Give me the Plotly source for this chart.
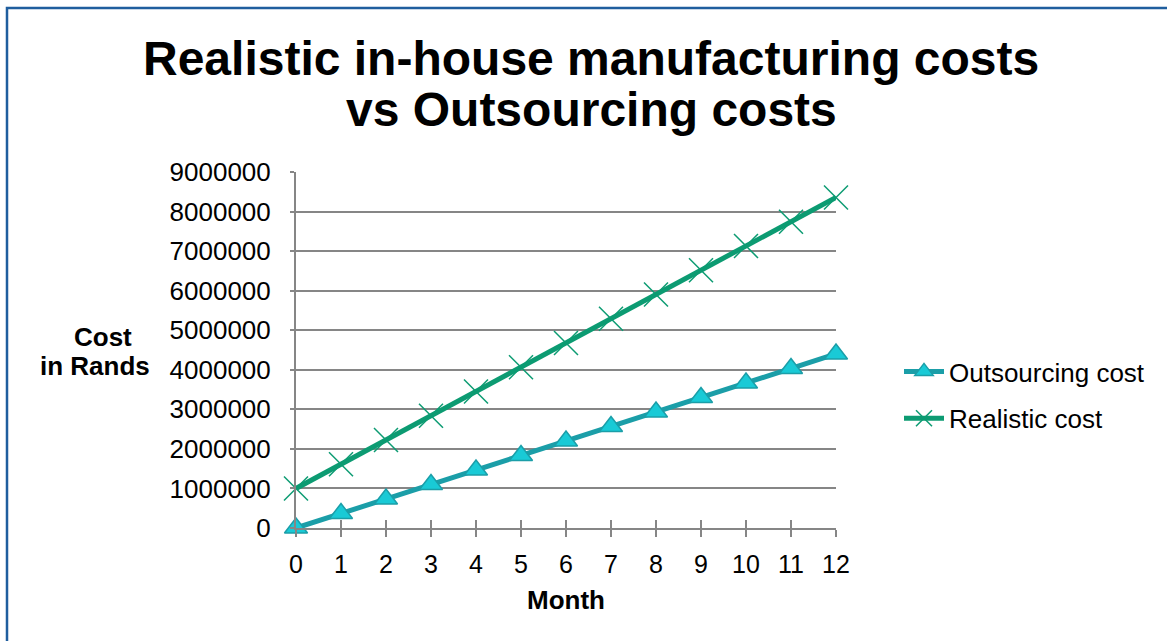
import plotly.graph_objects as go

# Monthly cumulative costs (Rands)
months = [0, 1, 2, 3, 4, 5, 6, 7, 8, 9, 10, 11, 12]
outsourcing_cost = [0, 367000, 733000, 1100000, 1467000, 1833000, 2200000,
                    2567000, 2933000, 3300000, 3667000, 4033000, 4400000]
realistic_cost = [1000000, 1613000, 2226000, 2839000, 3452000, 4065000, 4678000,
                  5291000, 5904000, 6517000, 7130000, 7743000, 8356000]

y_ticks = [0, 1000000, 2000000, 3000000, 4000000, 5000000,
           6000000, 7000000, 8000000, 9000000]

W, H = 1167, 641
ML, MR, MT, MB = 296, 331, 172, 113
PW, PH = W - ML - MR, H - MT - MB

FONT = "Liberation Sans, Arial, sans-serif"
GRID = "#868686"
TEAL = "#1b9ea8"
TEAL_FILL = "#19cad6"
GREEN = "#0c9b72"


def px_x(px):
    return (px - ML) / PW


def px_y(py):
    return (H - MB - py) / PH


fig = go.Figure()

fig.add_trace(go.Scatter(
    x=months, y=outsourcing_cost, name="Outsourcing cost",
    mode="lines+markers", legendgroup="a", cliponaxis=False,
    line=dict(color=TEAL, width=5),
    marker=dict(symbol="triangle-up", size=20, color=TEAL_FILL,
                line=dict(color=TEAL, width=1.5)),
))
fig.add_trace(go.Scatter(
    x=months, y=realistic_cost, name="Realistic cost",
    mode="lines+markers", legendgroup="b", cliponaxis=False,
    line=dict(color=GREEN, width=5),
    marker=dict(symbol="x-thin", size=24, color=GREEN,
                line=dict(color=GREEN, width=1.5)),
))
# invisible trace to carry the overlay axis used for the upper half of the tick marks
fig.add_trace(go.Scatter(x=[0, 12], y=[0, 0], xaxis="x2", mode="none",
                         showlegend=False, hoverinfo="skip"))

fig.update_layout(
    width=W, height=H,
    margin=dict(l=ML, r=MR, t=MT, b=MB, pad=0),
    paper_bgcolor="white", plot_bgcolor="white",
    font=dict(family=FONT, size=26, color="black"),
    showlegend=True,
    legend=dict(x=px_x(899), y=px_y(348), xanchor="left", yanchor="top",
                font=dict(size=26), tracegroupgap=10,
                bgcolor="rgba(0,0,0,0)", itemwidth=40),
    xaxis=dict(
        range=[0, 12], tickmode="array", tickvals=months,
        ticktext=[str(m) for m in months],
        showgrid=False, zeroline=False,
        showline=True, linecolor=GRID, linewidth=2,
        ticks="outside", ticklen=7, tickwidth=2, tickcolor=GRID,
        ticklabelstandoff=6,
        tickfont=dict(size=25),
    ),
    xaxis2=dict(
        overlaying="x", matches="x", side="bottom", anchor="y",
        showgrid=False, zeroline=False, showline=False,
        ticks="inside", ticklen=8, tickwidth=2, tickcolor=GRID,
        tickmode="array", tickvals=months, showticklabels=False,
    ),
    yaxis=dict(
        range=[0, 9000000], tickmode="array", tickvals=y_ticks,
        ticktext=[str(v) for v in y_ticks],
        showgrid=True, gridcolor=GRID, gridwidth=2,
        zeroline=False,
        showline=True, linecolor=GRID, linewidth=2,
        ticks="outside", ticklen=4, tickwidth=2, tickcolor=GRID,
        ticklabelstandoff=14,
        tickfont=dict(size=26),
    ),
)

annotations = [
    dict(text="<b>Realistic in-house manufacturing costs</b>",
         x=px_x(591), y=px_y(58), font=dict(size=48)),
    dict(text="<b>vs Outsourcing costs</b>",
         x=px_x(591), y=px_y(109), font=dict(size=48)),
    dict(text="<b>Cost</b>", x=px_x(103), y=px_y(337), font=dict(size=26)),
    dict(text="<b>in Rands</b>", x=px_x(95), y=px_y(366), font=dict(size=26)),
    dict(text="<b>Month</b>", x=px_x(566), y=px_y(600), font=dict(size=26)),
]
for a in annotations:
    fig.add_annotation(xref="paper", yref="paper", showarrow=False,
                       xanchor="center", yanchor="middle", **a)

# chart-area border
fig.add_shape(type="rect", xref="paper", yref="paper",
              x0=px_x(7), x1=px_x(1185), y0=px_y(660), y1=px_y(8),
              line=dict(color="#1f5e9e", width=2.5), layer="below")

fig.write_html("out.html")
